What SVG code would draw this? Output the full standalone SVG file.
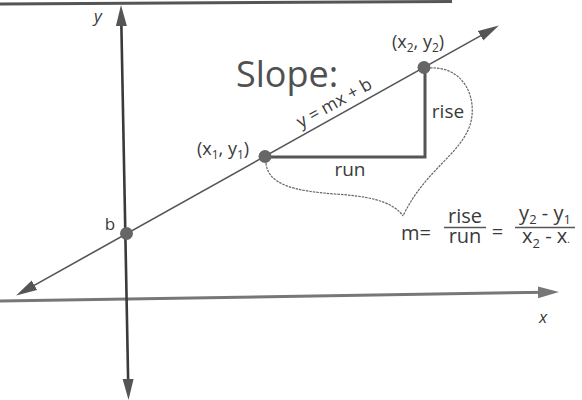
<svg xmlns="http://www.w3.org/2000/svg" width="582" height="400" viewBox="0 0 582 400">
<defs>
<marker id="ah" markerUnits="userSpaceOnUse" viewBox="0 0 21 12" markerWidth="21" markerHeight="12" refX="10" refY="6" orient="auto-start-reverse">
<path d="M0,0.5 L21,6 L0,11.5 Z" fill="#555"/>
</marker>
<marker id="ahx" markerUnits="userSpaceOnUse" viewBox="0 0 21 13" markerWidth="21" markerHeight="13" refX="10" refY="6.5" orient="auto">
<path d="M0,0.5 L21,6.5 L0,12.5 Z" fill="#777"/>
</marker>
<style>
.t{font-family:"Open Sans","Liberation Sans",sans-serif;fill:#3a3a3a}
.i{font-family:"Open Sans","Liberation Sans",sans-serif;font-style:italic;fill:#3a3a3a;font-size:17px}
.brace{fill:none;stroke:#666;stroke-width:1.2;stroke-dasharray:2.5 1}
.pt{fill:#666}
.bar{stroke:#555;stroke-width:1.6}
</style>
</defs>
<rect width="582" height="400" fill="#fff"/>
<line x1="0" y1="4" x2="452" y2="1.5" stroke="#555" stroke-width="3"/>

<g id="axes">
<line id="x-axis" x1="0" y1="301" x2="548" y2="292.2" stroke="#777" stroke-width="3" marker-end="url(#ahx)"/>
<line id="y-axis" x1="121.2" y1="16" x2="128.3" y2="389" stroke="#3a3a3a" stroke-width="2.6" marker-start="url(#ah)" marker-end="url(#ah)"/>
<text class="i" x="98" y="22" text-anchor="middle">y</text>
<text class="i" x="543" y="323" text-anchor="middle">x</text>
</g>

<g id="connectors">
<line id="main-line" x1="25.7" y1="290.1" x2="489.3" y2="30.9" stroke="#555" stroke-width="1.6" marker-start="url(#ah)" marker-end="url(#ah)"/>
<path id="run-rise" d="M265,157 L425,157 L425,68" fill="none" stroke="#555" stroke-width="3"/>
<path class="brace" d="M266,163 C268,185 295,191 335,194 C365,196 392,200 403,216"/>
<path class="brace" d="M430,68 C465,66 478,100 470,125 C460,155 425,170 403,216"/>
</g>

<g id="point-b">
<circle class="pt" cx="126.5" cy="233.5" r="6.5"/>
<text class="t" x="110" y="230" font-size="17" text-anchor="middle">b</text>
</g>

<g id="point-1">
<circle class="pt" cx="265" cy="156.5" r="6.5"/>
<text class="t" x="197" y="155" font-size="18">(x<tspan font-size="12" dy="4">1</tspan><tspan dy="-4">, y</tspan><tspan font-size="12" dy="4">1</tspan><tspan dy="-4">)</tspan></text>
</g>

<g id="point-2">
<circle class="pt" cx="424" cy="67.5" r="6.5"/>
<text class="t" x="392" y="48" font-size="18">(x<tspan font-size="12" dy="4">2</tspan><tspan dy="-4">, y</tspan><tspan font-size="12" dy="4">2</tspan><tspan dy="-4">)</tspan></text>
</g>

<g id="title">
<text class="t" x="236" y="87" font-size="36" style="fill:#505050">Slope:</text>
</g>

<g id="line-label">
<text class="t" x="337" y="108" font-size="17.5" text-anchor="middle" transform="rotate(-29.2 337 108)">y = mx + b</text>
</g>

<g id="run-label"><text class="t" x="350" y="176" font-size="19" text-anchor="middle">run</text></g>
<g id="rise-label"><text class="t" x="448" y="118" font-size="19" text-anchor="middle">rise</text></g>

<g id="formula">
<text class="t" x="401" y="240" font-size="20">m=</text>
<text class="t" x="465" y="223" font-size="20" text-anchor="middle">rise</text>
<line class="bar" x1="444" y1="227.5" x2="486" y2="227.5"/>
<text class="t" x="465" y="243" font-size="20" text-anchor="middle">run</text>
<text class="t" x="497.5" y="239" font-size="20" text-anchor="middle">=</text>
<text class="t" x="545" y="220" font-size="20" text-anchor="middle">y<tspan font-size="13" dy="4">2</tspan><tspan dy="-4"> - y</tspan><tspan font-size="13" dy="4">1</tspan></text>
<line class="bar" x1="515" y1="227.5" x2="575" y2="227.5"/>
<text class="t" x="546" y="243" font-size="20" text-anchor="middle">x<tspan font-size="13" dy="5">2</tspan><tspan dy="-5"> - x</tspan><tspan font-size="10">.</tspan></text>
</g>
</svg>
